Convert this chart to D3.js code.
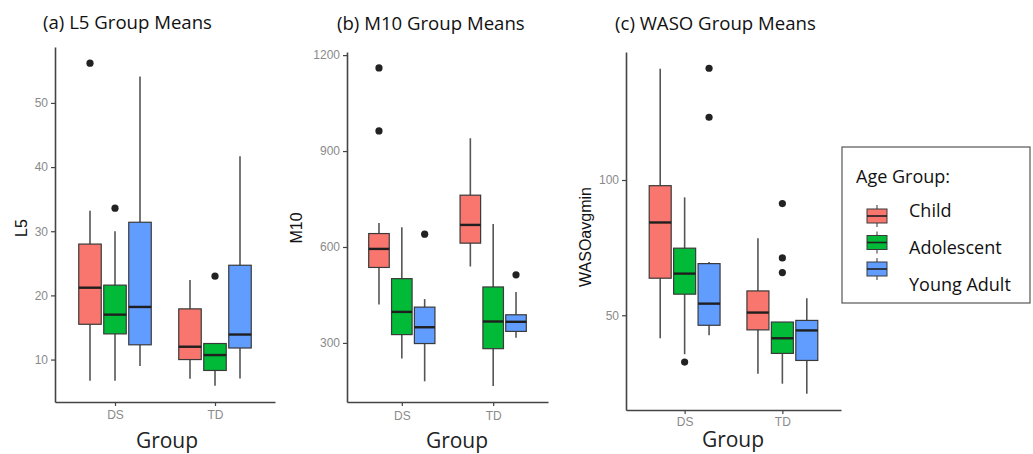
<!DOCTYPE html>
<html>
<head>
<meta charset="utf-8">
<script src="https://cdn.jsdelivr.net/npm/d3@7"></script>
<style>
  html, body { margin: 0; padding: 0; background: #fff; }
  svg { display: block; }
</style>
</head>
<body>
<svg id="chart" width="1033" height="454"></svg>
<script>
// ---------- DATA ----------
const groups = ["DS", "TD"];
const ageGroups = ["Child", "Adolescent", "Young Adult"];
const ageColors = ["#F8766D", "#00BA38", "#619CFF"];

// Box stats per box: [group, age, lowerWhisker, Q1, median, Q3, upperWhisker]
const l5Stats = [
  ["DS", "Child",        6.7, 15.5, 21.2, 28.0, 33.2],
  ["DS", "Adolescent",   6.7, 14.0, 17.0, 21.6, 30.0],
  ["DS", "Young Adult",  9.0, 12.3, 18.2, 31.4, 54.1],
  ["TD", "Child",        7.0, 10.0, 12.0, 17.9, 22.4],
  ["TD", "Adolescent",   5.9,  8.3, 10.7, 12.5, 12.5],
  ["TD", "Young Adult",  7.05, 11.8, 13.9, 24.7, 41.7]
];
const l5Outliers = [["DS", "Child", 56.2], ["DS", "Adolescent", 33.6], ["TD", "Adolescent", 23.0]];
const l5Ticks = [10, 20, 30, 40, 50];

const m10Stats = [
  ["DS", "Child",       420, 536, 594, 642, 675],
  ["DS", "Adolescent",  251, 326, 397, 501, 662],
  ["DS", "Young Adult", 180, 298, 349, 412, 437],
  ["TD", "Child",       539, 612, 669, 762, 940],
  ["TD", "Adolescent",  165, 282, 367, 475, 672],
  ["TD", "Young Adult", 316, 336, 366, 388, 459]
];
const m10Outliers = [["DS", "Child", 1160], ["DS", "Child", 963], ["DS", "Young Adult", 640], ["TD", "Young Adult", 513]];
const m10Ticks = [300, 600, 900, 1200];

const wasoStats = [
  ["DS", "Child",       41.5, 63.7, 84.3, 97.9, 141.1],
  ["DS", "Adolescent",  35.6, 57.8, 65.4, 74.8, 93.6],
  ["DS", "Young Adult", 42.6, 46.3, 54.3, 69.1, 69.7],
  ["TD", "Child",       28.4, 44.6, 51.0, 59.0, 78.5],
  ["TD", "Adolescent",  24.7, 35.9, 41.5, 47.5, 47.5],
  ["TD", "Young Adult", 21.0, 33.3, 44.4, 48.1, 56.3]
];
const wasoOutliers = [["DS", "Adolescent", 32.7], ["DS", "Young Adult", 141.3], ["DS", "Young Adult", 123.2],
  ["TD", "Adolescent", 91.3], ["TD", "Adolescent", 71.2], ["TD", "Adolescent", 65.8]];
const wasoTicks = [50, 100];

// ---------- DRAW ----------
const svg = d3.select("#chart");
const color = d3.scaleOrdinal().domain(ageGroups).range(ageColors);
const titleFont = "'Open Sans', 'Noto Sans', sans-serif";
const tickFont = "'Liberation Sans', Arial, sans-serif";

function panel(cfg) {
  const { stats, outliers, ticks, left, right, top, bottom, title, titleX, titleY,
          yLabel, yLabelX, yLabelY, groupX, tickLabelY, groupY } = cfg;
  const allVals = stats.flatMap(d => d.slice(2)).concat(outliers.map(d => d[2]));
  const lo = d3.min(allVals), hi = d3.max(allVals), r = hi - lo;
  const y = d3.scaleLinear().domain([lo - 0.05 * r, hi + 0.05 * r]).range([bottom, top]);
  const x = d3.scalePoint().domain(groups).range([left, right]).padding(0.6);
  const step = x.step();
  const dodge = d3.scaleBand().domain(ageGroups).range([-0.375 * step, 0.375 * step]);
  const bw = dodge.bandwidth() * 0.9;
  const cx = (g, a) => x(g) + dodge(a) + dodge.bandwidth() / 2;

  const g = svg.append("g");

  // y axis
  const ya = g.append("g").attr("transform", `translate(${left},0)`)
    .call(d3.axisLeft(y).tickValues(ticks).tickFormat(d3.format("d")).tickSizeOuter(0).tickSizeInner(4).tickPadding(3));
  ya.select(".domain").attr("stroke", "#444").attr("stroke-width", 1.6);
  ya.selectAll(".tick line").attr("stroke", "#444").attr("stroke-width", 1.2);
  ya.selectAll(".tick text").attr("fill", "#8a8a8a").style("font-family", tickFont).style("font-size", "12px");

  // x axis
  const xa = g.append("g").attr("transform", `translate(0,${bottom})`)
    .call(d3.axisBottom(x).tickSizeOuter(0).tickSizeInner(4).tickPadding(6));
  xa.select(".domain").attr("stroke", "#444").attr("stroke-width", 1.6);
  xa.selectAll(".tick line").attr("stroke", "#444").attr("stroke-width", 1.2);
  xa.selectAll(".tick text").attr("fill", "#8a8a8a").style("font-family", tickFont).style("font-size", "12px")
    .attr("y", tickLabelY - bottom).attr("dy", "0.35em");

  // whiskers
  g.selectAll(".whisker").data(stats).join("line")
    .attr("x1", d => cx(d[0], d[1])).attr("x2", d => cx(d[0], d[1]))
    .attr("y1", d => y(d[2])).attr("y2", d => y(d[6]))
    .attr("stroke", "#555").attr("stroke-width", 1.6);

  // boxes
  g.selectAll(".box").data(stats).join("rect")
    .attr("x", d => cx(d[0], d[1]) - bw / 2).attr("width", bw)
    .attr("y", d => y(d[5])).attr("height", d => Math.max(0.5, y(d[3]) - y(d[5])))
    .attr("fill", d => color(d[1])).attr("stroke", "#3a3a3a").attr("stroke-width", 1.2);

  // medians
  g.selectAll(".median").data(stats).join("line")
    .attr("x1", d => cx(d[0], d[1]) - bw / 2).attr("x2", d => cx(d[0], d[1]) + bw / 2)
    .attr("y1", d => y(d[4])).attr("y2", d => y(d[4]))
    .attr("stroke", "#1f1f1f").attr("stroke-width", 2.4);

  // outliers
  g.selectAll(".outlier").data(outliers).join("circle")
    .attr("cx", d => cx(d[0], d[1])).attr("cy", d => y(d[2])).attr("r", 3.6)
    .attr("fill", "#222");

  // title
  g.append("text").attr("x", titleX).attr("y", titleY).text(title)
    .style("font-family", titleFont).style("font-size", "18.6px").attr("fill", "#111");

  // y label
  g.append("text").attr("transform", `translate(${yLabelX},${yLabelY}) rotate(-90)`)
    .attr("text-anchor", "middle").attr("dy", "0.35em").text(yLabel)
    .style("font-family", tickFont).style("font-size", "16px").attr("fill", "#111");

  // x label
  g.append("text").attr("x", groupX).attr("y", groupY).attr("text-anchor", "middle").text("Group")
    .style("font-family", titleFont).style("font-size", "21px").attr("fill", "#222");
}

panel({ stats: l5Stats, outliers: l5Outliers, ticks: l5Ticks, left: 55, right: 275, top: 47, bottom: 402,
  title: "(a) L5 Group Means", titleX: 43, titleY: 29, yLabel: "L5", yLabelX: 21, yLabelY: 228,
  groupX: 167, tickLabelY: 415, groupY: 448 });

panel({ stats: m10Stats, outliers: m10Outliers, ticks: m10Ticks, left: 347, right: 548, top: 52, bottom: 402,
  title: "(b) M10 Group Means", titleX: 337, titleY: 30, yLabel: "M10", yLabelX: 296, yLabelY: 228,
  groupX: 457, tickLabelY: 416, groupY: 448 });

panel({ stats: wasoStats, outliers: wasoOutliers, ticks: wasoTicks, left: 626, right: 841, top: 52, bottom: 410,
  title: "(c) WASO Group Means", titleX: 615, titleY: 30, yLabel: "WASOavgmin", yLabelX: 585, yLabelY: 237,
  groupX: 733, tickLabelY: 422, groupY: 447 });

// ---------- LEGEND ----------
const lg = svg.append("g");
lg.append("rect").attr("x", 842).attr("y", 147).attr("width", 188).attr("height", 156)
  .attr("fill", "#fff").attr("stroke", "#555").attr("stroke-width", 1.2);
lg.append("text").attr("x", 856).attr("y", 183).text("Age Group:")
  .style("font-family", titleFont).style("font-size", "18px").attr("fill", "#111");
const keyY = d3.scalePoint().domain(ageGroups).range([216, 269]);
const labelY = d3.scalePoint().domain(ageGroups).range([217, 291]);
ageGroups.forEach(a => {
  const cy = keyY(a);
  lg.append("line").attr("x1", 877).attr("x2", 877).attr("y1", cy - 11).attr("y2", cy + 11)
    .attr("stroke", "#555").attr("stroke-width", 1.2);
  lg.append("rect").attr("x", 867).attr("y", cy - 7).attr("width", 20).attr("height", 14)
    .attr("fill", color(a)).attr("stroke", "#3a3a3a").attr("stroke-width", 1);
  lg.append("line").attr("x1", 867).attr("x2", 887).attr("y1", cy).attr("y2", cy)
    .attr("stroke", "#1f1f1f").attr("stroke-width", 1.6);
  lg.append("text").attr("x", 909).attr("y", labelY(a)).text(a)
    .style("font-family", titleFont).style("font-size", "18px").attr("fill", "#111");
});
</script>
</body>
</html>
